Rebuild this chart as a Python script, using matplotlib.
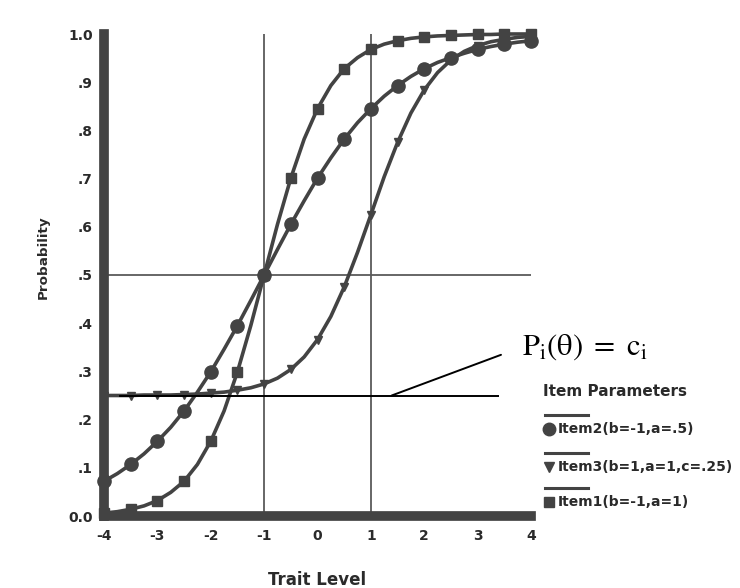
import matplotlib
matplotlib.use("Agg")
import matplotlib.pyplot as plt
from matplotlib.lines import Line2D

# trait levels (quarter steps, markers on every half step)
theta = [-4.0, -3.75, -3.5, -3.25, -3.0, -2.75, -2.5, -2.25, -2.0, -1.75, -1.5,
         -1.25, -1.0, -0.75, -0.5, -0.25, 0.0, 0.25, 0.5, 0.75, 1.0, 1.25, 1.5,
         1.75, 2.0, 2.25, 2.5, 2.75, 3.0, 3.25, 3.5, 3.75, 4.0]

# Item2 (b=-1, a=.5)
item2 = [0.072, 0.088, 0.107, 0.129, 0.155, 0.184, 0.218, 0.257, 0.299, 0.346,
         0.395, 0.447, 0.500, 0.553, 0.605, 0.654, 0.701, 0.743, 0.782, 0.816,
         0.845, 0.871, 0.893, 0.912, 0.928, 0.941, 0.951, 0.960, 0.968, 0.974,
         0.979, 0.983, 0.986]
# Item3 (b=1, a=1, c=.25)
item3 = [0.250, 0.250, 0.250, 0.251, 0.251, 0.251, 0.252, 0.253, 0.255, 0.257,
         0.261, 0.266, 0.274, 0.286, 0.304, 0.330, 0.366, 0.414, 0.475, 0.547,
         0.625, 0.704, 0.775, 0.836, 0.884, 0.920, 0.946, 0.964, 0.976, 0.984,
         0.989, 0.993, 0.995]
# Item1 (b=-1, a=1)
item1 = [0.006, 0.009, 0.014, 0.021, 0.032, 0.049, 0.072, 0.107, 0.155, 0.218,
         0.299, 0.395, 0.500, 0.605, 0.701, 0.782, 0.845, 0.893, 0.928, 0.951,
         0.968, 0.979, 0.986, 0.991, 0.994, 0.996, 0.997, 0.998, 0.999, 0.999,
         1.000, 1.000, 1.000]

c3 = 0.25
b_lines = [-1, 1]
xticks = [-4, -3, -2, -1, 0, 1, 2, 3, 4]
yticks = [0.0, 0.1, 0.2, 0.3, 0.4, 0.5, 0.6, 0.7, 0.8, 0.9, 1.0]
ytick_labels = ["0.0", ".1", ".2", ".3", ".4", ".5", ".6", ".7", ".8", ".9", "1.0"]
legend_labels = ["Item2(b=-1,a=.5)", "Item3(b=1,a=1,c=.25)", "Item1(b=-1,a=1)"]

plt.rcParams['font.family'] = ['DejaVu Sans']
plt.rcParams['mathtext.fontset'] = 'stix'

dark = '#434343'
thin = '#5a5a5a'
txt = '#2a2a2a'
W, H = 740, 588

fig = plt.figure(figsize=(7.4, 5.88), dpi=100)
ax = fig.add_axes([104 / W, 72 / H, 427 / W, 482 / H])
ax.set_xlim(-4, 4)
ax.set_ylim(0, 1)

# reference lines at b and P=.5
for b in b_lines:
    ax.axvline(b, color=thin, lw=1.3, zorder=1)
ax.axhline(0.5, color=thin, lw=1.3, zorder=1)

ax.plot(theta, item2, color=dark, lw=2.6, marker='o', ms=9.5, markevery=2, zorder=3, clip_on=False)
ax.plot(theta, item3, color=dark, lw=2.6, marker='v', ms=6, markevery=2, zorder=3, clip_on=False)
ax.plot(theta, item1, color=dark, lw=2.6, marker='s', ms=6.5, markevery=2, zorder=3, clip_on=False)

# lower asymptote of item 3
ax.hlines(c3, -3.72, 3.4, color='black', lw=1.4, zorder=5)
ax.annotate(r'$\mathrm{P_i(\theta)\ =\ c_i}$', xy=(1.39, c3), xycoords='data',
            xytext=(522, H - 347), textcoords='figure pixels', ha='left', va='center',
            fontsize=22, color='black',
            arrowprops=dict(arrowstyle='-', color='black', lw=1.4,
                            relpos=(0, 0.5), shrinkA=14, shrinkB=0))

for side in ['top', 'right']:
    ax.spines[side].set_visible(False)
for side in ['left', 'bottom']:
    ax.spines[side].set_linewidth(7)
    ax.spines[side].set_color(dark)
    ax.spines[side].set_zorder(4)

ax.set_xticks(xticks)
ax.set_xticklabels([str(t) for t in xticks])
ax.set_yticks(yticks)
ax.set_yticklabels(ytick_labels)
ax.tick_params(length=0, labelsize=10, colors=txt)
ax.tick_params(axis='y', pad=8)
ax.tick_params(axis='x', pad=9)
for lbl in ax.get_xticklabels() + ax.get_yticklabels():
    lbl.set_fontweight('bold')

# axis titles
fig.text(317 / W, 1 - 580 / H, 'Trait Level', fontsize=12, fontweight='bold',
         color=txt, ha='center', va='center')
fig.text(43 / W, 1 - 257 / H, 'Probability', fontsize=9.7, fontweight='bold',
         color=txt, ha='center', va='center', rotation=90)

# legend block to the right
fig.text(543 / W, 1 - 392 / H, 'Item Parameters', fontsize=11, fontweight='bold',
         color=txt, va='center', ha='left')
markers = [('o', 9), ('v', 7.5), ('s', 7.5)]
rows = [429, 467, 502]
for (mk, ms), y, lab in zip(markers, rows, legend_labels):
    fig.add_artist(Line2D([545 / W, 588 / W], [1 - (y - 14) / H] * 2,
                          color=dark, lw=2.2))
    fig.add_artist(Line2D([549 / W], [1 - y / H], marker=mk, ms=ms,
                          color=dark, lw=0))
    fig.text(558 / W, 1 - y / H, lab, fontsize=10, fontweight='bold',
             color=txt, va='center', ha='left')

fig.savefig('out.png', dpi=100)
